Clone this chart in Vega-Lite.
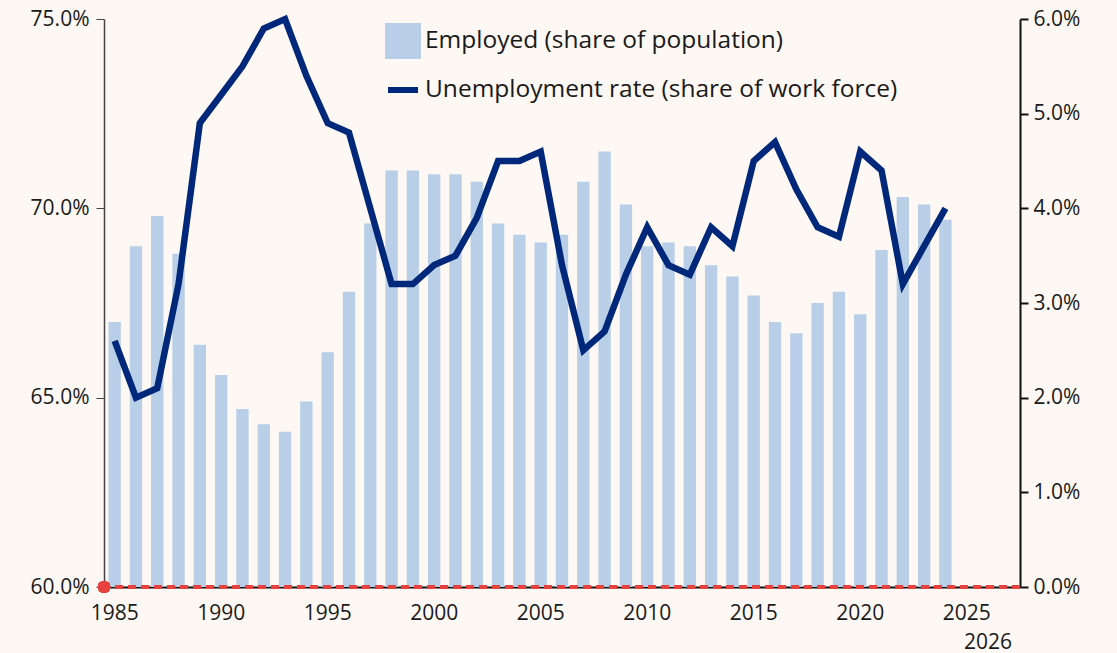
{
  "$schema": "https://vega.github.io/schema/vega-lite/v6.json",
  "width": 916,
  "height": 568,
  "autosize": {"type": "none"},
  "padding": {"left": 104, "top": 19, "right": 97, "bottom": 66},
  "background": "#FDF8F4",
  "config": {
    "view": {"stroke": null},
    "font": "Open Sans",
    "axis": {"labelFont": "Open Sans", "labelFontSize": 21, "labelColor": "#1a1a1a", "grid": false}
  },
  "data": {
    "values": [
      {"year": 1985, "employed": 67.0, "unemployment": 2.6},
      {"year": 1986, "employed": 69.0, "unemployment": 2.0},
      {"year": 1987, "employed": 69.8, "unemployment": 2.1},
      {"year": 1988, "employed": 68.8, "unemployment": 3.2},
      {"year": 1989, "employed": 66.4, "unemployment": 4.9},
      {"year": 1990, "employed": 65.6, "unemployment": 5.2},
      {"year": 1991, "employed": 64.7, "unemployment": 5.5},
      {"year": 1992, "employed": 64.3, "unemployment": 5.9},
      {"year": 1993, "employed": 64.1, "unemployment": 6.0},
      {"year": 1994, "employed": 64.9, "unemployment": 5.4},
      {"year": 1995, "employed": 66.2, "unemployment": 4.9},
      {"year": 1996, "employed": 67.8, "unemployment": 4.8},
      {"year": 1997, "employed": 69.6, "unemployment": 4.0},
      {"year": 1998, "employed": 71.0, "unemployment": 3.2},
      {"year": 1999, "employed": 71.0, "unemployment": 3.2},
      {"year": 2000, "employed": 70.9, "unemployment": 3.4},
      {"year": 2001, "employed": 70.9, "unemployment": 3.5},
      {"year": 2002, "employed": 70.7, "unemployment": 3.9},
      {"year": 2003, "employed": 69.6, "unemployment": 4.5},
      {"year": 2004, "employed": 69.3, "unemployment": 4.5},
      {"year": 2005, "employed": 69.1, "unemployment": 4.6},
      {"year": 2006, "employed": 69.3, "unemployment": 3.4},
      {"year": 2007, "employed": 70.7, "unemployment": 2.5},
      {"year": 2008, "employed": 71.5, "unemployment": 2.7},
      {"year": 2009, "employed": 70.1, "unemployment": 3.3},
      {"year": 2010, "employed": 69.0, "unemployment": 3.8},
      {"year": 2011, "employed": 69.1, "unemployment": 3.4},
      {"year": 2012, "employed": 69.0, "unemployment": 3.3},
      {"year": 2013, "employed": 68.5, "unemployment": 3.8},
      {"year": 2014, "employed": 68.2, "unemployment": 3.6},
      {"year": 2015, "employed": 67.7, "unemployment": 4.5},
      {"year": 2016, "employed": 67.0, "unemployment": 4.7},
      {"year": 2017, "employed": 66.7, "unemployment": 4.2},
      {"year": 2018, "employed": 67.5, "unemployment": 3.8},
      {"year": 2019, "employed": 67.8, "unemployment": 3.7},
      {"year": 2020, "employed": 67.2, "unemployment": 4.6},
      {"year": 2021, "employed": 68.9, "unemployment": 4.4},
      {"year": 2022, "employed": 70.3, "unemployment": 3.2},
      {"year": 2023, "employed": 70.1, "unemployment": 3.6},
      {"year": 2024, "employed": 69.7, "unemployment": 4.0}
    ]
  },
  "layer": [
    {
      "layer": [
        {
          "mark": {"type": "bar", "width": {"band": 0.58}},
          "encoding": {
            "x": {
              "field": "year",
              "type": "ordinal",
              "title": null,
              "scale": {
                "domain": [1985,1986,1987,1988,1989,1990,1991,1992,1993,1994,1995,1996,1997,1998,1999,2000,2001,2002,2003,2004,2005,2006,2007,2008,2009,2010,2011,2012,2013,2014,2015,2016,2017,2018,2019,2020,2021,2022,2023,2024,2025,2026,2027],
                "paddingInner": 0,
                "paddingOuter": 0
              },
              "axis": {
                "values": [1985,1990,1995,2000,2005,2010,2015,2020,2025,2026],
                "labelExpr": "datum.value == 2026 ? ['', '2026'] : datum.label",
                "labelLineHeight": 29,
                "labelAngle": 0,
                "labelOverlap": false,
                "ticks": false,
                "labelPadding": 15,
                "domainColor": "#111111",
                "domainWidth": 2
              }
            },
            "y": {
              "field": "employed",
              "type": "quantitative",
              "title": null,
              "scale": {"domain": [60, 75], "zero": false, "nice": false},
              "axis": {
                "orient": "left",
                "values": [60, 65, 70, 75],
                "labelExpr": "format(datum.value, '.1f') + '%'",
                "tickSize": 8,
                "tickColor": "#444444",
                "domainColor": "#444444",
                "domainWidth": 1.5,
                "labelPadding": 7
              }
            },
            "y2": {"datum": 60},
            "color": {
              "datum": "Employed (share of population)",
              "type": "nominal",
              "scale": {
                "domain": ["Employed (share of population)", "Unemployment rate (share of work force)"],
                "range": ["#B8CFE7", "#00287A"]
              },
              "legend": {
                "title": null,
                "orient": "none",
                "legendX": 281,
                "legendY": 4,
                "padding": 0,
                "symbolSize": 900,
                "symbolType": "square",
                "labelFont": "Open Sans",
                "labelFontSize": 24.5,
                "labelLimit": 0,
                "labelColor": "#1a1a1a",
                "labelOffset": 4,
                "rowPadding": 4,
                "symbolStrokeWidth": 5,
                "encode": {
                  "symbols": {
                    "update": {
                      "shape": {"signal": "datum.value === 'Employed (share of population)' ? 'square' : 'stroke'"},
                      "fill": {"signal": "datum.value === 'Employed (share of population)' ? '#B8CFE7' : 'transparent'"},
                      "stroke": {"signal": "datum.value === 'Employed (share of population)' ? 'transparent' : '#00287A'"},
                      "strokeWidth": {"value": 6},
                      "opacity": {"value": 1},
                      "fillOpacity": {"value": 1},
                      "strokeOpacity": {"value": 1}
                    }
                  }
                }
              }
            }
          }
        },
        {
          "mark": {"type": "rule", "color": "#E8423F", "strokeWidth": 2.5, "strokeDash": [8, 5]},
          "encoding": {
            "y": {"datum": 60, "type": "quantitative", "title": null}
          }
        },
        {
          "mark": {"type": "point", "filled": true, "shape": "circle", "color": "#E8423F", "size": 150, "opacity": 1},
          "encoding": {
            "x": {"datum": 1985, "type": "ordinal", "bandPosition": 0},
            "y": {"datum": 60, "type": "quantitative", "title": null}
          }
        }
      ]
    },
    {
      "mark": {"type": "line", "strokeWidth": 6.5, "strokeJoin": "miter"},
      "encoding": {
        "x": {"field": "year", "type": "ordinal", "title": null},
        "y": {
          "field": "unemployment",
          "type": "quantitative",
          "title": null,
          "scale": {"domain": [0, 6], "nice": false},
          "axis": {
            "orient": "right",
            "values": [0, 1, 2, 3, 4, 5, 6],
            "labelExpr": "format(datum.value, '.1f') + '%'",
            "tickSize": 8,
            "tickColor": "#111111",
            "domainColor": "#111111",
            "domainWidth": 2,
            "tickWidth": 2,
            "labelPadding": 5
          }
        },
        "color": {"datum": "Unemployment rate (share of work force)", "type": "nominal"}
      }
    }
  ],
  "resolve": {"scale": {"y": "independent"}}
}
